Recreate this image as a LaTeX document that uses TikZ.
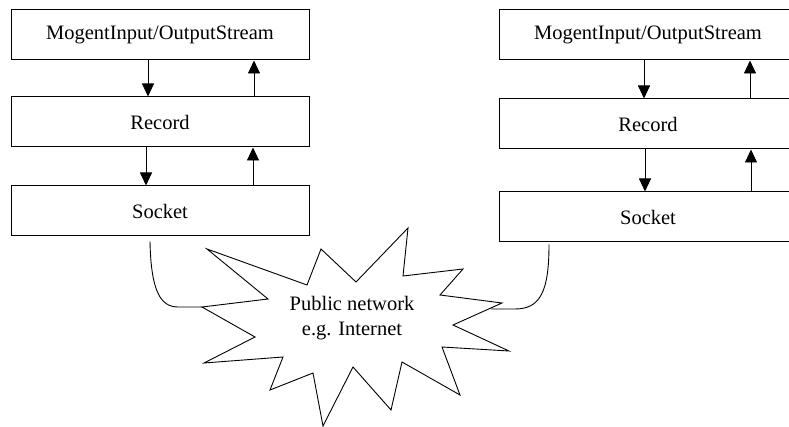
\documentclass[tikz,border=0pt]{standalone}
\usepackage{fontspec}
\setmainfont{Liberation Serif}
\usetikzlibrary{positioning,arrows.meta}

\begin{document}
\begin{tikzpicture}[
  x=1pt, y=-1pt,
  every node/.style={font=\fontsize{20.5}{25}\selectfont},
  block/.style={draw, rectangle, line width=1pt, minimum width=298pt, minimum height=50pt, inner sep=0pt},
  flow/.style={-{Triangle[width=12pt,length=13pt]}, line width=0.9pt},
  wire/.style={line width=0.9pt},
]
\useasboundingbox (0,0) rectangle (789,427);
\clip (0,0) rectangle (789,427);

% left stack
\node (mosL) [block] at (160,35) {MogentInput/OutputStream};
\node (recL) [block, below=36pt of mosL] {Record};
\node (sockL) [block, below=38pt of recL] {Socket};

% right stack
\node (mosR) [block] at (648,35) {MogentInput/OutputStream};
\node (recR) [block, below=38pt of mosR] {Record};
\node (sockR) [block, below=42pt of recR] {Socket};

% arrows
\draw[flow] ([xshift=-12pt]mosL.south) -- ([xshift=-12pt]mosL.south |- recL.north);
\draw[flow] ([xshift=94pt]recL.north) -- ([xshift=94pt]recL.north |- mosL.south);
\draw[flow] ([xshift=-14pt]recL.south) -- ([xshift=-14pt]recL.south |- sockL.north);
\draw[flow] ([xshift=93pt]sockL.north) -- ([xshift=93pt]sockL.north |- recL.south);

\draw[flow] ([xshift=-4pt]mosR.south) -- ([xshift=-4pt]mosR.south |- recR.north);
\draw[flow] ([xshift=102pt]recR.north) -- ([xshift=102pt]recR.north |- mosR.south);
\draw[flow] ([xshift=-3pt]recR.south) -- ([xshift=-3pt]recR.south |- sockR.north);
\draw[flow] ([xshift=103pt]sockR.north) -- ([xshift=103pt]sockR.north |- recR.south);

% network burst
\draw[wire] (207,249) -- (307,285) -- (321,249) -- (356,282) -- (408,228)
  -- (403,276) -- (463,269) -- (440,295) -- (502,303) -- (453,325)
  -- (509,351) -- (442,347) -- (460,395) -- (402,362) -- (391,410)
  -- (353,367) -- (323,426) -- (313,373) -- (270,390) -- (283,357)
  -- (204,363) -- (255,337) -- (202,307) -- (268,299) -- cycle;
\coordinate (tipW) at (202,307);
\coordinate (tipE) at (491,309);
\node (net) [align=center] at (352,318) {Public network\\e.g. Internet};

% cables
\draw[wire] ([xshift=-10pt,yshift=-5pt]sockL.south)
  .. controls (151,290) and (160,307) .. (178,307) -- (tipW);
\draw[wire] ([xshift=-99pt,yshift=-2pt]sockR.south)
  .. controls (549,292) and (540,309) .. (515,309) -- (tipE);

\end{tikzpicture}
\end{document}
